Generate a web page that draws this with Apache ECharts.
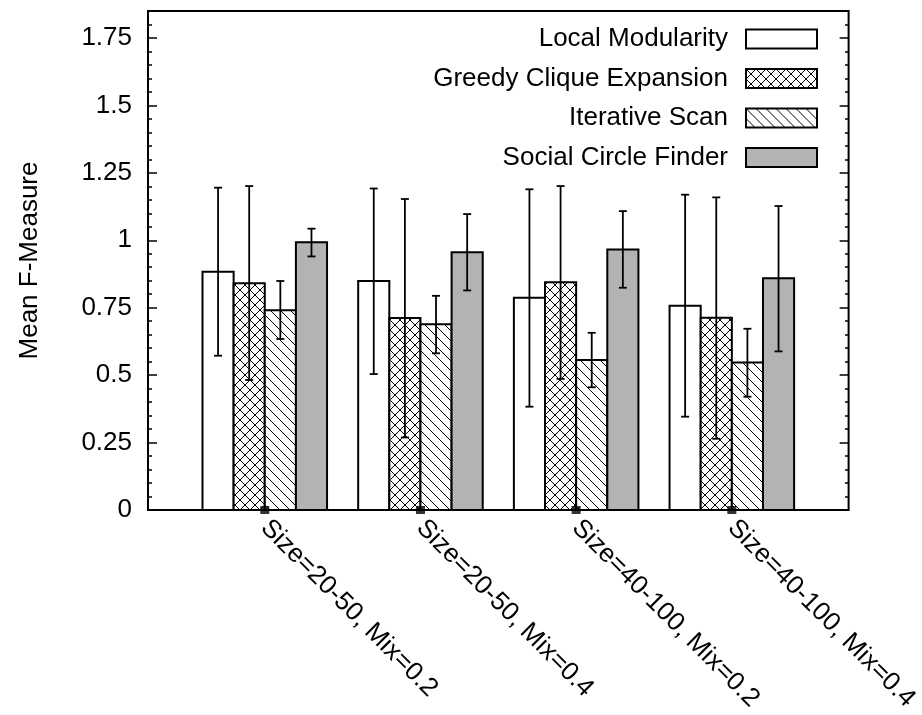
<!DOCTYPE html>
<html>
<head>
<meta charset="utf-8">
<script src="https://cdn.jsdelivr.net/npm/echarts@6/dist/echarts.min.js"></script>
<style>
html, body { margin: 0; padding: 0; background: #fff; }
#chart { width: 922px; height: 715px; }
</style>
</head>
<body>
<div id="chart"></div>
<script>
// ---- data ----
const categories = ['Size=20-50, Mix=0.2', 'Size=20-50, Mix=0.4', 'Size=40-100, Mix=0.2', 'Size=40-100, Mix=0.4'];
const seriesNames = ['Local Modularity', 'Greedy Clique Expansion', 'Iterative Scan', 'Social Circle Finder'];

const lmMean = [0.883, 0.849, 0.787, 0.757];
const lmLow  = [0.572, 0.504, 0.383, 0.346];
const lmHigh = [1.195, 1.192, 1.189, 1.169];

const gceMean = [0.841, 0.712, 0.844, 0.713];
const gceLow  = [0.482, 0.269, 0.486, 0.264];
const gceHigh = [1.201, 1.153, 1.201, 1.159];

const isMean = [0.741, 0.689, 0.556, 0.547];
const isLow  = [0.634, 0.581, 0.455, 0.420];
const isHigh = [0.849, 0.794, 0.657, 0.672];

const scfMean = [0.993, 0.956, 0.966, 0.859];
const scfLow  = [0.940, 0.814, 0.824, 0.588];
const scfHigh = [1.043, 1.097, 1.108, 1.127];

const yMax = 1.85;
const xMin = -0.75, xMax = 3.75;

// ---- fill patterns ----
function makePattern(kind, size) {
  const c = document.createElement('canvas');
  c.width = size; c.height = size;
  const ctx = c.getContext('2d');
  ctx.fillStyle = '#fff';
  ctx.fillRect(0, 0, size, size);
  ctx.strokeStyle = '#000';
  ctx.lineWidth = 1;
  ctx.beginPath();
  for (const o of [-size, 0, size]) {
    ctx.moveTo(o, 0); ctx.lineTo(o + size, size);
    if (kind === 'cross') {
      ctx.moveTo(o + size, 0); ctx.lineTo(o, size);
    }
  }
  ctx.stroke();
  return { image: c, repeat: 'repeat' };
}
const fills = [
  '#ffffff',
  makePattern('cross', 10),
  makePattern('diag', 10),
  '#b3b3b3'
];

const allMeans = [lmMean, gceMean, isMean, scfMean];
const allLows = [lmLow, gceLow, isLow, scfLow];
const allHighs = [lmHigh, gceHigh, isHigh, scfHigh];

function barRenderer(k, fill) {
  return function (params, api) {
    const i = api.value(0);
    const left = i - 0.4 + 0.2 * k;
    const right = left + 0.2;
    const center = left + 0.1;
    const pBase = api.coord([left, 0]);
    const pTop = api.coord([right, api.value(1)]);
    const pLow = api.coord([center, api.value(2)]);
    const pHigh = api.coord([center, api.value(3)]);
    const cap = 4;
    const ls = { stroke: '#000', lineWidth: 1.8 };
    return {
      type: 'group',
      children: [
        { type: 'rect', shape: { x: pBase[0], y: pTop[1], width: pTop[0] - pBase[0], height: pBase[1] - pTop[1] },
          style: { fill: fill, stroke: '#000', lineWidth: 2 } },
        { type: 'line', shape: { x1: pLow[0], y1: pLow[1], x2: pHigh[0], y2: pHigh[1] }, style: ls },
        { type: 'line', shape: { x1: pLow[0] - cap, y1: pLow[1], x2: pLow[0] + cap, y2: pLow[1] }, style: ls },
        { type: 'line', shape: { x1: pHigh[0] - cap, y1: pHigh[1], x2: pHigh[0] + cap, y2: pHigh[1] }, style: ls }
      ]
    };
  };
}

const series = seriesNames.map((name, k) => ({
  type: 'custom',
  name: name,
  xAxisIndex: 0,
  yAxisIndex: 0,
  itemStyle: { color: fills[k], borderColor: '#000', borderWidth: 2 },
  data: allMeans[k].map((m, i) => [i, m, allLows[k][i], allHighs[k][i]]),
  encode: { x: 0, y: [1, 2, 3] },
  renderItem: barRenderer(k, fills[k]),
  z: 2
}));

series.push({
  type: 'scatter',
  xAxisIndex: 0,
  yAxisIndex: 0,
  symbol: 'rect',
  symbolSize: [9, 8],
  itemStyle: { color: '#000' },
  clip: false,
  silent: true,
  z: 5,
  data: categories.map((c, i) => [i, 0])
});

const gridBox = { left: 148, right: 73, top: 11, bottom: 205 };
const font = 'Liberation Sans, Arial, Helvetica, sans-serif';

function tickAxis(gridIndex, position, interval, length, extra) {
  return Object.assign({
    type: 'value', gridIndex: gridIndex, position: position, min: 0, max: yMax, interval: interval,
    axisLine: { show: false, onZero: false },
    axisTick: { show: true, inside: true, length: length, lineStyle: { color: '#000', width: 1.5 } },
    splitLine: { show: false },
    axisLabel: { show: false }
  }, extra || {});
}

const option = {
  backgroundColor: '#ffffff',
  animation: false,
  textStyle: { fontFamily: font, color: '#000' },
  grid: [
    Object.assign({ show: true, borderColor: '#000', borderWidth: 2, backgroundColor: 'transparent' }, gridBox),
    Object.assign({ show: false }, gridBox)
  ],
  xAxis: [
    {
      type: 'value', gridIndex: 0, min: xMin, max: xMax, interval: 0.25,
      axisLine: { show: false, onZero: false },
      axisTick: { show: false },
      splitLine: { show: false },
      axisLabel: {
        rotate: -45, margin: 14, fontSize: 26, color: '#000', fontFamily: font,
        showMinLabel: false, showMaxLabel: false,
        formatter: function (v) {
          const r = Math.round(v);
          return (Math.abs(v - r) < 1e-6 && r >= 0 && r < categories.length) ? categories[r] : '';
        }
      }
    },
    { type: 'value', gridIndex: 1, min: xMin, max: xMax, show: false, axisLine: { onZero: false } }
  ],
  yAxis: [
    tickAxis(0, 'left', 0.25, 9, {
      name: 'Mean F-Measure', nameLocation: 'middle', nameGap: 105, nameRotate: 90,
      nameTextStyle: { fontSize: 26, color: '#000', fontFamily: font },
      axisLabel: {
        show: true, fontSize: 26, color: '#000', margin: 16, fontFamily: font, showMaxLabel: false,
        formatter: function (v) { return Math.abs(v - yMax) < 1e-6 ? '' : String(v); }
      }
    }),
    tickAxis(0, 'right', 0.25, 9),
    tickAxis(1, 'left', 0.05, 4),
    tickAxis(1, 'right', 0.05, 4)
  ],
  legend: {
    orient: 'vertical',
    align: 'right',
    right: 104,
    top: 26,
    padding: 0,
    itemWidth: 71,
    itemHeight: 19,
    itemGap: 13.5,
    icon: 'rect',
    selectedMode: false,
    itemStyle: { borderColor: '#000', borderWidth: 2 },
    textStyle: { fontSize: 26, color: '#000', fontFamily: font, padding: [0, 13, 0, 0] },
    data: seriesNames.map((n, k) => ({ name: n, itemStyle: { color: fills[k], borderColor: '#000', borderWidth: 2 } }))
  },
  series: series
};

const chart = echarts.init(document.getElementById('chart'), null, { renderer: 'canvas' });
chart.setOption(option);
</script>
</body>
</html>
